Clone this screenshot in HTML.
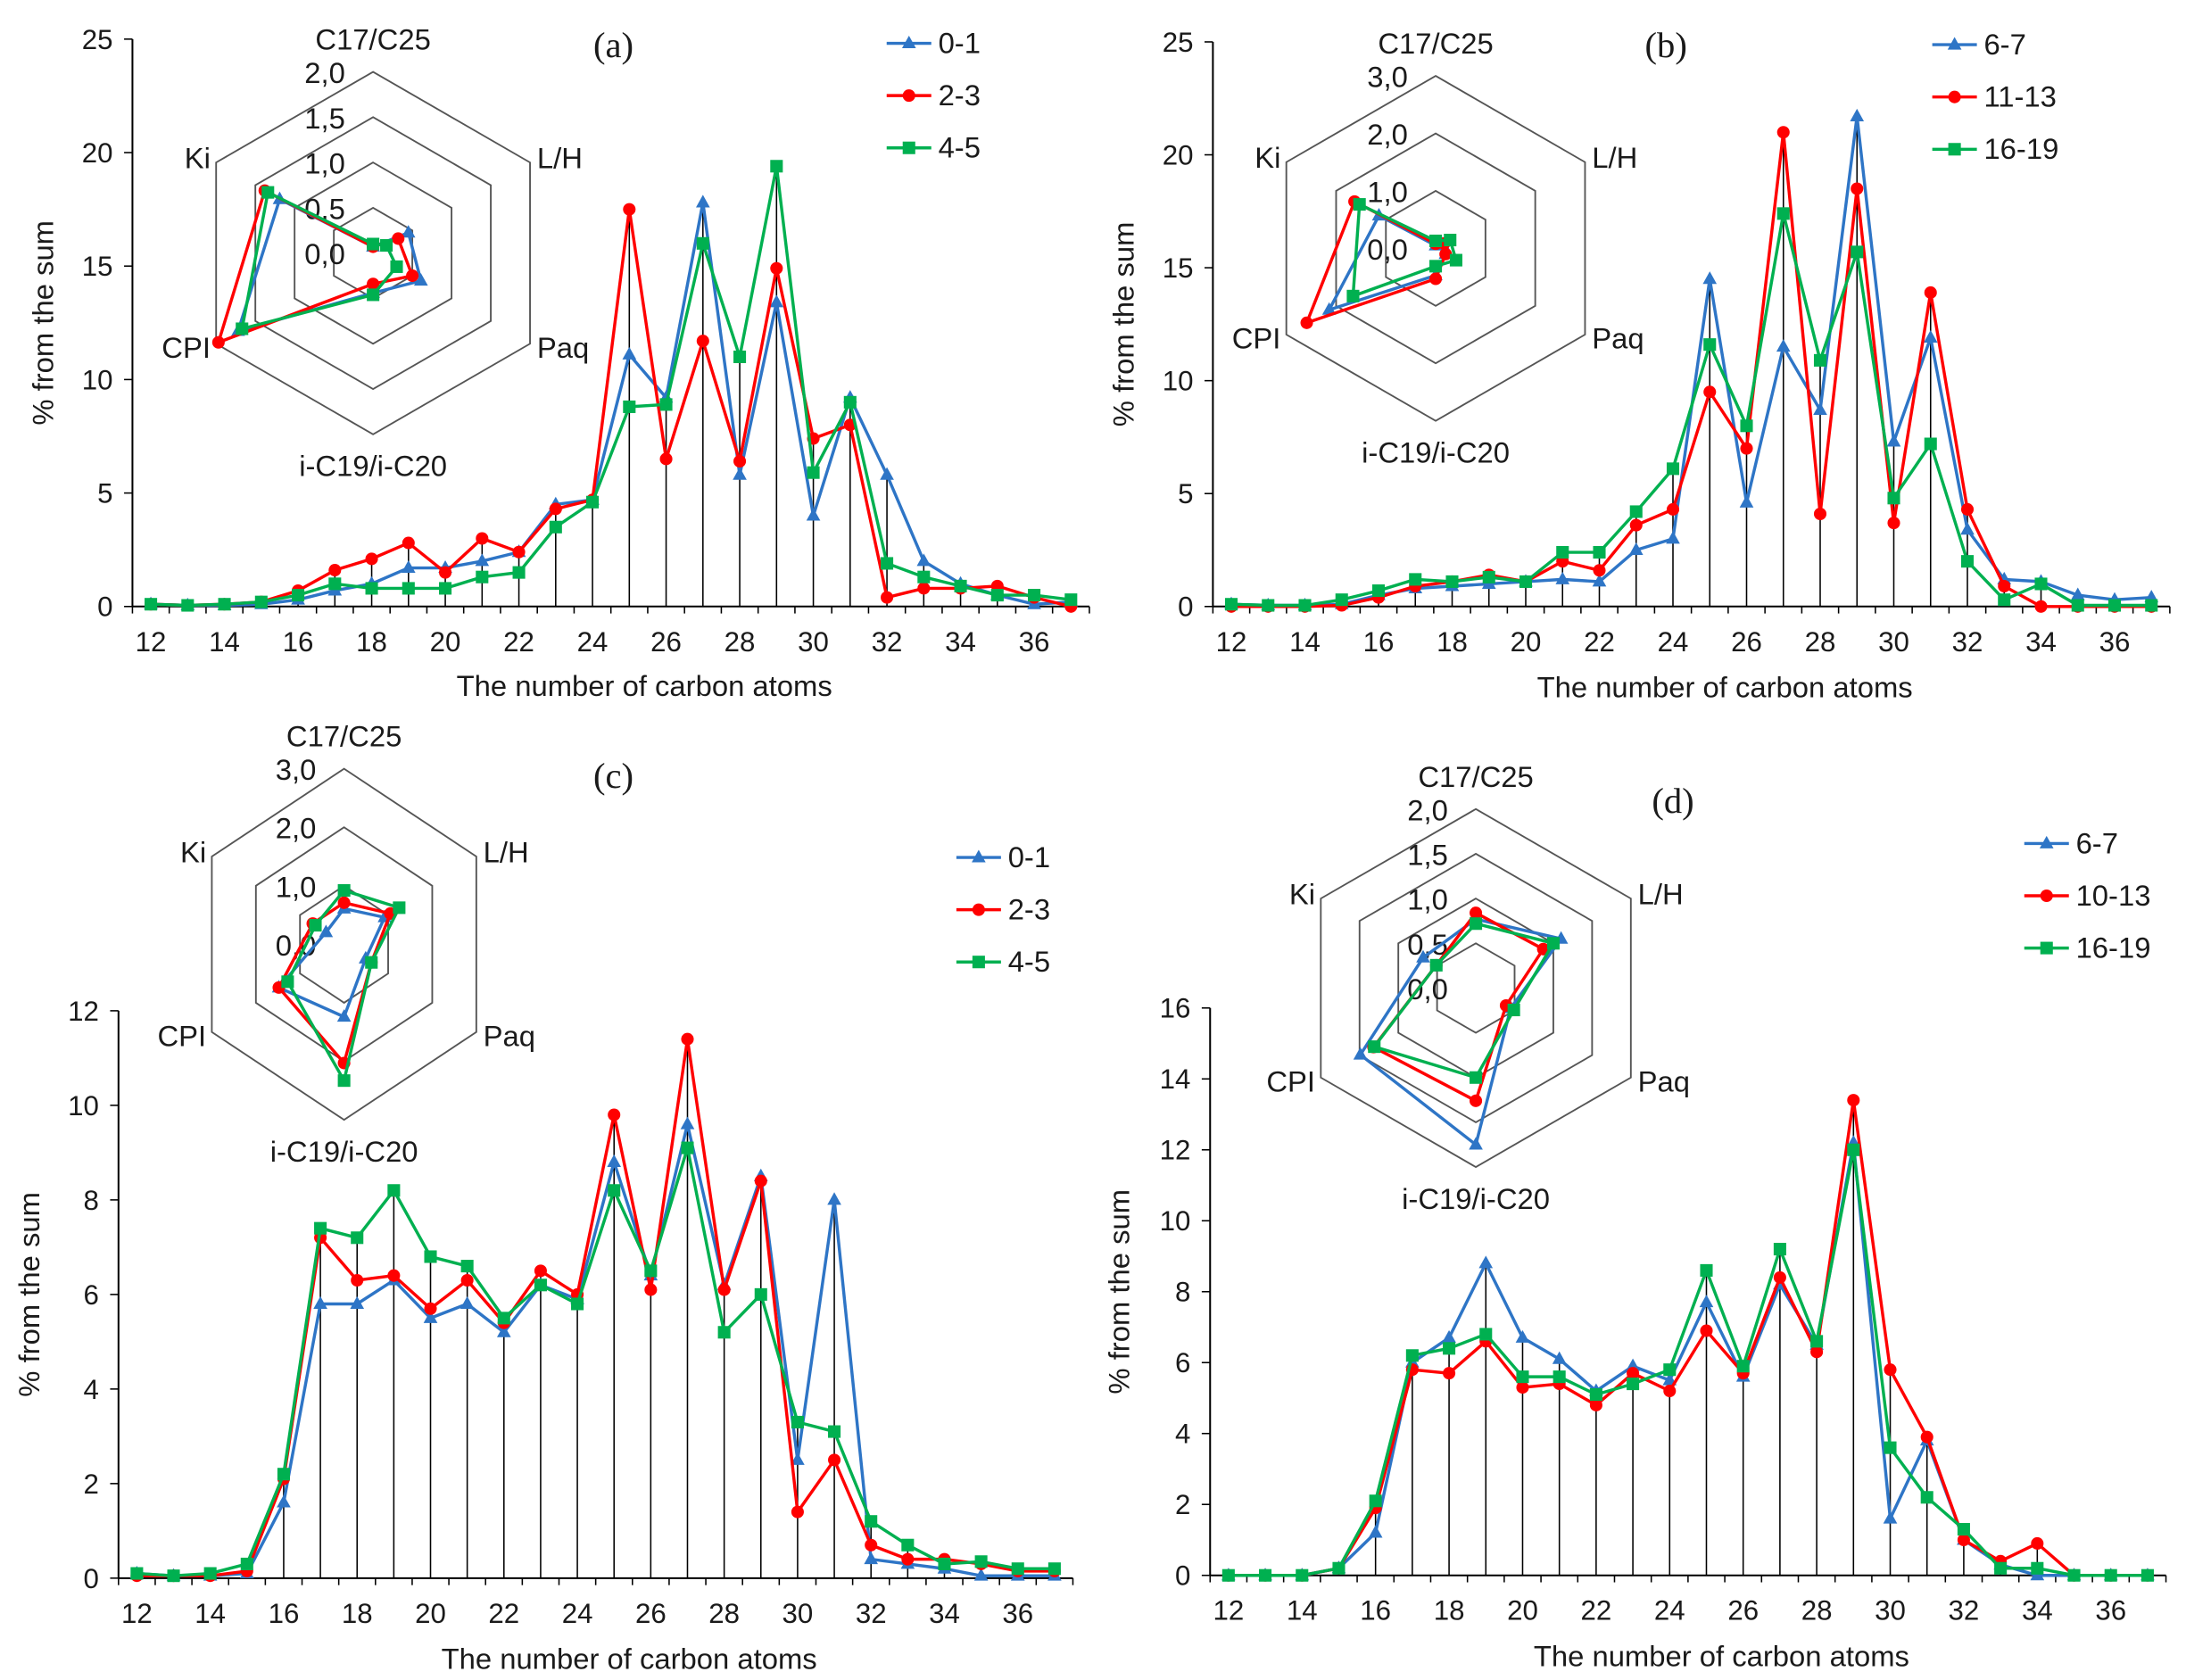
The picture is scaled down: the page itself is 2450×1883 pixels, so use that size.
<!DOCTYPE html>
<html><head><meta charset="utf-8"><style>
html,body{margin:0;padding:0;background:#fff}
svg{display:block}
text{font-family:"Liberation Sans",sans-serif;fill:#1a1a1a}
</style></head><body>
<svg id="s" width="2450" height="1883" viewBox="0 0 1568 1205" xmlns="http://www.w3.org/2000/svg"></svg>
<script>
const S=document.getElementById('s');let h='';
const C={b:'#2E75C6',r:'#FF0000',g:'#00B050'};
function mk(t,x,y,c){
 if(t==='b')return `<polygon points="${x},${y-5.5} ${x+5},${y+3.5} ${x-5},${y+3.5}" fill="${c}"/>`;
 if(t==='r')return `<circle cx="${x}" cy="${y}" r="4.5" fill="${c}"/>`;
 return `<rect x="${x-4.5}" y="${y-4.5}" width="9" height="9" fill="${c}"/>`;
}
function chart(o){
 const {ax,x0,w,y0,yt,ymax,step,data,leg,lx,ly,title,tx,ty,xl,xly,ylx}=o;
 const n=26,end=ax+n*w,py=v=>y0-(y0-yt)*v/ymax,px=i=>ax+w*(i+0.5);
 for(let i=0;i<n;i++){let m=Math.max(data.b[i],data.r[i],data.g[i]);h+=`<line x1="${px(i)}" y1="${y0}" x2="${px(i)}" y2="${py(m)}" stroke="#000" stroke-width="1"/>`;}
 h+=`<line x1="${ax}" y1="${yt}" x2="${ax}" y2="${y0}" stroke="#000" stroke-width="1.3"/>`;
 h+=`<line x1="${ax}" y1="${y0}" x2="${end}" y2="${y0}" stroke="#000" stroke-width="1.3"/>`;
 for(let v=0;v<=ymax;v+=step){h+=`<line x1="${ax-6}" y1="${py(v)}" x2="${ax}" y2="${py(v)}" stroke="#000"/><text x="${ax-14}" y="${py(v)+7}" font-size="20" text-anchor="end">${v}</text>`;}
 for(let i=0;i<=n;i++)h+=`<line x1="${ax+i*w}" y1="${y0}" x2="${ax+i*w}" y2="${y0+5}" stroke="#000"/>`;
 for(let i=0;i<n;i+=2)h+=`<text x="${px(i)}" y="${y0+32}" font-size="20" text-anchor="middle">${12+i}</text>`;
 h+=`<text x="${(ax+end)/2+24}" y="${xly}" font-size="21" text-anchor="middle">The number of carbon atoms</text>`;
 h+=`<text transform="translate(${ylx},${(yt+y0)/2}) rotate(-90)" font-size="21" text-anchor="middle">% from the sum</text>`;
 for(const k of ['b','r','g']){
  h+=`<polyline fill="none" stroke="${C[k]}" stroke-width="2.2" points="${data[k].map((v,i)=>px(i)+','+py(v)).join(' ')}"/>`;
  data[k].forEach((v,i)=>h+=mk(k,px(i),py(v),C[k]));
 }
 ['b','r','g'].forEach((k,j)=>{let y=ly+j*37.5;h+=`<line x1="${lx}" y1="${y}" x2="${lx+32}" y2="${y}" stroke="${C[k]}" stroke-width="2.2"/>`+mk(k,lx+16,y,C[k])+`<text x="${lx+37}" y="${y+7}" font-size="21">${leg[j]}</text>`;});
 h+=`<text x="${tx}" y="${ty}" font-size="26" text-anchor="middle" style="font-family:'Liberation Serif',serif">${title}</text>`;
}
function radar(o){
 const {cx,cy,r,xs,max,rings,data}=o;
 const ang=[-90,-30,30,90,150,210].map(a=>a*Math.PI/180);
 const pt=(k,v)=>[cx+Math.cos(ang[k])*r*v/max*xs,cy+Math.sin(ang[k])*r*v/max];
 for(let i=1;i<=rings;i++){let v=max*i/rings;h+=`<polygon fill="none" stroke="#555" stroke-width="1.2" points="${[0,1,2,3,4,5].map(k=>pt(k,v).join(',')).join(' ')}"/>`;}
 for(let i=0;i<=rings;i++){let v=max*i/rings;h+=`<text x="${cx-20}" y="${cy-r*i/rings+8}" font-size="21" text-anchor="end">${v.toFixed(1).replace('.',',')}</text>`;}
 const L=['C17/C25','L/H','Paq','i-C19/i-C20','CPI','Ki'];
 const P=[0,1,2,3,4,5].map(k=>pt(k,max));
 h+=`<text x="${P[0][0]}" y="${P[0][1]-16}" font-size="21" text-anchor="middle">${L[0]}</text>`;
 h+=`<text x="${P[1][0]+5}" y="${P[1][1]+4}" font-size="21">${L[1]}</text>`;
 h+=`<text x="${P[2][0]+5}" y="${P[2][1]+10}" font-size="21">${L[2]}</text>`;
 h+=`<text x="${P[3][0]}" y="${P[3][1]+30}" font-size="21" text-anchor="middle">${L[3]}</text>`;
 h+=`<text x="${P[4][0]-4}" y="${P[4][1]+10}" font-size="21" text-anchor="end">${L[4]}</text>`;
 h+=`<text x="${P[5][0]-4}" y="${P[5][1]+4}" font-size="21" text-anchor="end">${L[5]}</text>`;
 for(const k of ['b','r','g']){
  const ps=data[k].map((v,i)=>pt(i,v));
  h+=`<polygon fill="none" stroke="${C[k]}" stroke-width="2.2" points="${ps.map(p=>p.join(',')).join(' ')}"/>`;
  ps.forEach(p=>h+=mk(k,p[0],p[1],C[k]));
 }
}
chart({ax:95,w:26.4,y0:435,yt:28,ymax:25,step:5,leg:['0-1','2-3','4-5'],lx:636,ly:31,title:'(a)',tx:440,ty:41,xly:499,ylx:38,data:{
b:[0.1,0.05,0.05,0.1,0.3,0.7,1.0,1.7,1.7,2.0,2.4,4.5,4.7,11.1,9.2,17.8,5.8,13.4,4.0,9.2,5.8,2.0,1.0,0.5,0.1,0.2],
r:[0.1,0.05,0.1,0.2,0.7,1.6,2.1,2.8,1.5,3.0,2.4,4.3,4.7,17.5,6.5,11.7,6.4,14.9,7.4,8.0,0.4,0.8,0.8,0.9,0.4,0.0],
g:[0.1,0.05,0.1,0.2,0.5,1.0,0.8,0.8,0.8,1.3,1.5,3.5,4.6,8.8,8.9,16.0,11.0,19.4,5.9,9.0,1.9,1.3,0.9,0.5,0.5,0.3]}});
chart({ax:870,w:26.4,y0:435,yt:30,ymax:25,step:5,leg:['6-7','11-13','16-19'],lx:1386,ly:32,title:'(b)',tx:1195,ty:41,xly:500,ylx:813,data:{
b:[0.1,0.05,0.05,0.1,0.5,0.8,0.9,1.0,1.1,1.2,1.1,2.5,3.0,14.5,4.6,11.5,8.7,21.7,7.3,11.9,3.4,1.2,1.1,0.5,0.3,0.4],
r:[0,0,0,0.05,0.4,0.9,1.1,1.4,1.1,2.0,1.6,3.6,4.3,9.5,7.0,21.0,4.1,18.5,3.7,13.9,4.3,0.9,0,0,0,0],
g:[0.1,0.05,0.05,0.3,0.7,1.2,1.1,1.3,1.1,2.4,2.4,4.2,6.1,11.6,8.0,17.4,10.9,15.7,4.8,7.2,2.0,0.3,1.0,0.05,0.05,0.05]}});
chart({ax:85,w:26.33,y0:1132,yt:725,ymax:12,step:2,leg:['0-1','2-3','4-5'],lx:686,ly:615,title:'(c)',tx:440,ty:565,xly:1197,ylx:28,data:{
b:[0.1,0.05,0.05,0.1,1.6,5.8,5.8,6.3,5.5,5.8,5.2,6.2,5.9,8.8,6.4,9.6,6.2,8.5,2.5,8.0,0.4,0.3,0.2,0.05,0.05,0.05],
r:[0.05,0.05,0.05,0.15,2.1,7.2,6.3,6.4,5.7,6.3,5.4,6.5,6.0,9.8,6.1,11.4,6.1,8.4,1.4,2.5,0.7,0.4,0.4,0.3,0.15,0.15],
g:[0.1,0.05,0.1,0.3,2.2,7.4,7.2,8.2,6.8,6.6,5.5,6.2,5.8,8.2,6.5,9.1,5.2,6.0,3.3,3.1,1.2,0.7,0.3,0.35,0.2,0.2]}});
chart({ax:868,w:26.37,y0:1130,yt:723,ymax:16,step:2,leg:['6-7','10-13','16-19'],lx:1452,ly:605,title:'(d)',tx:1200,ty:583,xly:1195,ylx:810,data:{
b:[0,0,0,0.2,1.2,6.0,6.7,8.8,6.7,6.1,5.2,5.9,5.5,7.7,5.6,8.2,6.5,12.2,1.6,3.8,1.0,0.3,0,0,0,0],
r:[0,0,0,0.2,1.9,5.8,5.7,6.6,5.3,5.4,4.8,5.7,5.2,6.9,5.7,8.4,6.3,13.4,5.8,3.9,1.0,0.4,0.9,0,0,0],
g:[0,0,0,0.2,2.1,6.2,6.4,6.8,5.6,5.6,5.1,5.4,5.8,8.6,5.9,9.2,6.6,12.0,3.6,2.2,1.3,0.2,0.2,0,0,0]}});
radar({cx:267.6,cy:181.5,r:130,xs:1,max:2,rings:4,data:{
b:[0.07,0.45,0.61,0.44,1.72,1.19],r:[0.07,0.32,0.5,0.34,1.97,1.38],g:[0.1,0.17,0.3,0.46,1.67,1.34]}});
radar({cx:1029.8,cy:178.1,r:123.7,xs:1,max:3,rings:3,data:{
b:[0.05,0.14,0.2,0.47,2.14,1.14],r:[0.08,0.17,0.2,0.53,2.59,1.63],g:[0.13,0.29,0.41,0.31,1.66,1.53]}});
radar({cx:246.8,cy:677.3,r:125.9,xs:0.87,max:3,rings:3,data:{
b:[0.61,0.92,0.49,1.24,1.48,0.41],r:[0.71,1.05,0.62,2.03,1.48,0.71],g:[0.92,1.25,0.62,2.33,1.28,0.65]}});
radar({cx:1058.6,cy:708.7,r:128.4,xs:1,max:2,rings:4,data:{
b:[0.77,1.1,0.45,1.75,1.49,0.68],r:[0.84,0.87,0.39,1.26,1.32,0.51],g:[0.72,1.0,0.49,1.0,1.31,0.51]}});
S.innerHTML=h;
</script>
</body></html>
